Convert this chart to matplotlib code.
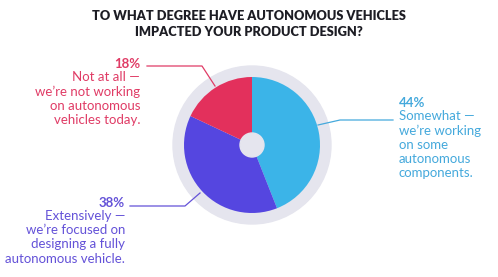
import matplotlib.pyplot as plt
from matplotlib.patches import Circle

plt.rcParams['font.family'] = ['Lato', 'DejaVu Sans']

# chart data
shares = [44, 38, 18]
pcts = ['44%', '38%', '18%']
answers = ['Somewhat \u2014\nwe\u2019re working\non some\nautonomous\ncomponents.',
           'Extensively \u2014\nwe\u2019re focused on\ndesigning a fully\nautonomous vehicle.',
           'Not at all \u2014\nwe\u2019re not working\non autonomous\nvehicles today.']
colors = ['#3bb4e8', '#5546e0', '#e3305c']
text_colors = ['#45a9dc', '#6452d8', '#e03c66']
title = 'TO WHAT DEGREE HAVE AUTONOMOUS VEHICLES\nIMPACTED YOUR PRODUCT DESIGN?'

W, H = 498, 277
fig = plt.figure(figsize=(W / 100, H / 100), dpi=100)
ax = fig.add_axes([0, 0, 1, 1])

cx, cy = 252, H - 145
ax.add_patch(Circle((cx, cy), 79, color='#e5e5ee', zorder=0))
ax.pie(shares, colors=colors, startangle=90, counterclock=False,
       center=(cx, cy), radius=68, wedgeprops=dict(linewidth=0))
ax.add_patch(Circle((cx, cy), 12, color='#e5e5ee', zorder=5))

ax.set_xlim(0, W)
ax.set_ylim(0, H)
ax.set_aspect('equal')
ax.axis('off')

fig.text(0.5, 1 - 24 / H, title, ha='center', va='center', fontsize=9.2,
         fontweight='heavy', color='#1d1d24', linespacing=1.4)

# labels: (x, y of first line, align, leader line points)
label_pos = [
    (399, 103, 'left', [(318, 125), (340, 120), (393, 120)]),
    (125, 203, 'right', [(130, 206), (185, 206), (200, 193)]),
    (140, 64, 'right', [(147, 66), (202, 66), (215, 86)]),
]
for i, (x, y, ha, pts) in enumerate(label_pos):
    ax.text(x, H - y, pcts[i], ha=ha, va='center', fontsize=9.5,
            fontweight='bold', color=text_colors[i])
    ax.text(x, H - y - 7, answers[i], ha=ha, va='top', fontsize=9.5,
            color=text_colors[i], linespacing=1.22)
    ax.plot([p[0] for p in pts], [H - p[1] for p in pts],
            color=text_colors[i], lw=0.9)

fig.savefig('out.png', dpi=100)
